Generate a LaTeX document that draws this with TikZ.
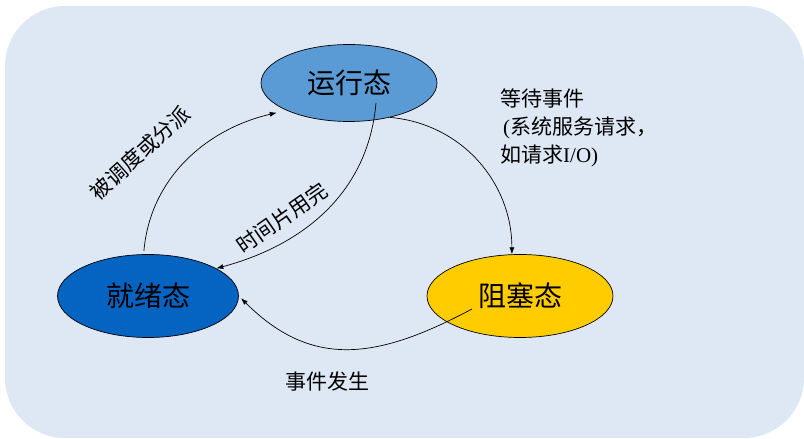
\documentclass[tikz,border=0pt]{standalone}
\usepackage{fontspec}
\setmainfont{Liberation Serif}
\newfontfamily\cjk{Noto Sans CJK SC}
\usetikzlibrary{arrows.meta,calc,shapes.geometric}
\definecolor{bgblue}{HTML}{DEE8F5}
\definecolor{runblue}{HTML}{5B9BD5}
\definecolor{readyblue}{HTML}{0563C1}
\definecolor{blkyellow}{HTML}{FFCC00}

\begin{document}
\begin{tikzpicture}[
    x=1pt, y=1pt,
    state/.style={ellipse, draw=black, line width=0.7pt, inner sep=0pt,
                  font=\cjk\fontsize{28}{32}\selectfont},
    note/.style={font=\cjk\fontsize{21}{28}\selectfont, inner sep=0pt},
    arrow/.style={-{Latex[length=7pt,width=5pt]}, line width=0.7pt, black}
]
\useasboundingbox (0,0) rectangle (804,439);
\fill[bgblue, rounded corners=60pt] (5,1) rectangle (804,433);

\node[state, fill=runblue, minimum width=176pt, minimum height=77pt] (run) at (349,356) {运行态};
\node[state, fill=readyblue, minimum width=181pt, minimum height=83pt] (ready) at (148,143) {就绪态};
\node[state, fill=blkyellow, minimum width=186pt, minimum height=83pt] (blk) at (520,143) {阻塞态};

\coordinate (runIn) at ($(run.center)+(27,-20)$);
\coordinate (blkIn) at ($(blk.center)+(-48,-13)$);

\draw[arrow] (run.-40) to[out=-5, in=90] (blk.101);
\draw[arrow] (runIn) to[out=-95, in=15] (ready.22);
\draw[arrow, shorten <=3pt, shorten >=10pt] (ready.96) to[out=85, in=193] (run.south west);
\draw[arrow, shorten >=3pt] (blkIn) to[out=208, in=-45, looseness=1.15] (ready.east);

\node[note, anchor=west, align=left] (wait) at (500,311)
    {等待事件\\\hspace{3pt}{\rmfamily(}系统服务请求，\\如请求{\rmfamily I/O)}};
\node[note, rotate=42] (sched) at (140,286) {被调度或分派};
\node[note, rotate=35] (slice) at (282,221) {时间片用完};
\node[note] (evt) at (327,57) {事件发生};
\end{tikzpicture}
\end{document}
